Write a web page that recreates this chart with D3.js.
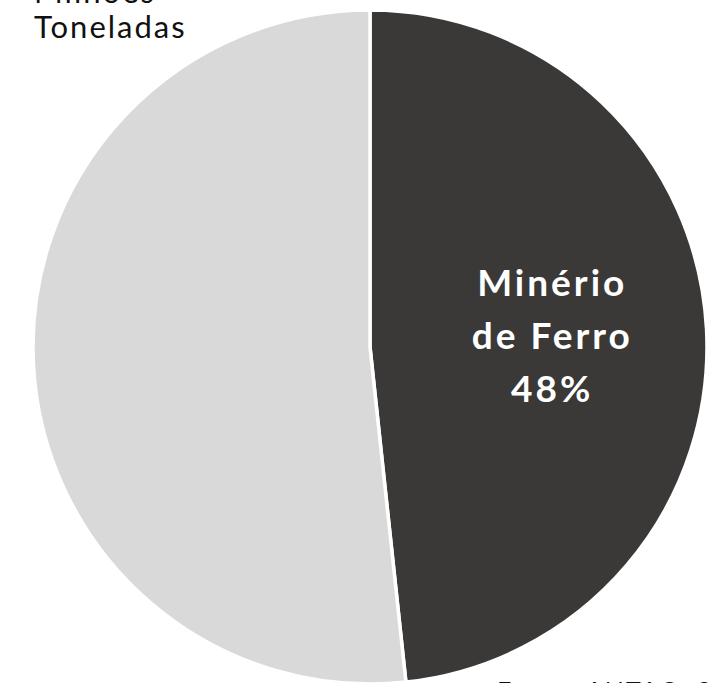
<!DOCTYPE html>
<html lang="pt">
<head>
<meta charset="utf-8">
<title>Minério de Ferro</title>
<script src="https://d3js.org/d3.v7.min.js"></script>
<style>
  body { margin: 0; background: #fff; }
  svg { display: block; font-family: "Lato", "Open Sans", sans-serif; }
</style>
</head>
<body>
<script>
// slices, clockwise from 12 o'clock
var categories = ["Minério de Ferro", "Outros"];
var shares = [48.3, 51.7];
var labelLines = ["Minério", "de Ferro", "48%"];
var titleLines = ["Milhões", "Toneladas"];
var source = "Fonte: ANTAQ, 2019";

var w = 715, h = 683;
var cx = 370, cy = 347, r = 337;

var color = d3.scaleOrdinal()
    .domain(categories)
    .range(["#3a3937", "#d9d9d9"]);

var svg = d3.select("body").append("svg")
    .attr("width", w)
    .attr("height", h);

var pie = d3.pie().sort(null).value(function(d) { return d.v; });
var arcs = pie(categories.map(function(c, i) { return {c: c, v: shares[i]}; }));

var arc = d3.arc().innerRadius(0).outerRadius(r);
var labelArc = d3.arc().innerRadius(181).outerRadius(181);

var g = svg.append("g").attr("transform", "translate(" + cx + "," + cy + ")");

g.selectAll("path")
    .data(arcs)
    .enter()
    .append("path")
    .attr("d", arc)
    .attr("fill", function(d) { return color(d.data.c); })
    .attr("stroke", "#fff")
    .attr("stroke-width", 3.5)
    .attr("stroke-linejoin", "round");

// label inside the dark slice
var c = labelArc.centroid(arcs[0]);
var lbl = g.append("text")
    .attr("text-anchor", "middle")
    .attr("fill", "#fff")
    .attr("font-weight", "bold")
    .attr("font-size", 37)
    .attr("letter-spacing", 3);
labelLines.forEach(function(t, i) {
    lbl.append("tspan")
        .attr("x", c[0] + 1.5)
        .attr("y", c[1] + 11.5 + (i - 1) * 53)
        .text(t);
});

// title, cut at the top
var title = svg.append("text")
    .attr("font-size", 31)
    .attr("letter-spacing", 2)
    .attr("fill", "#111");
titleLines.forEach(function(t, i) {
    title.append("tspan")
        .attr("x", 34)
        .attr("y", 3 + i * 35)
        .text(t);
});

// source, cut at the bottom
svg.append("text")
    .attr("x", 497)
    .attr("y", 700)
    .attr("font-size", 25)
    .attr("letter-spacing", 2)
    .attr("fill", "#111")
    .text(source);
</script>
</body>
</html>
